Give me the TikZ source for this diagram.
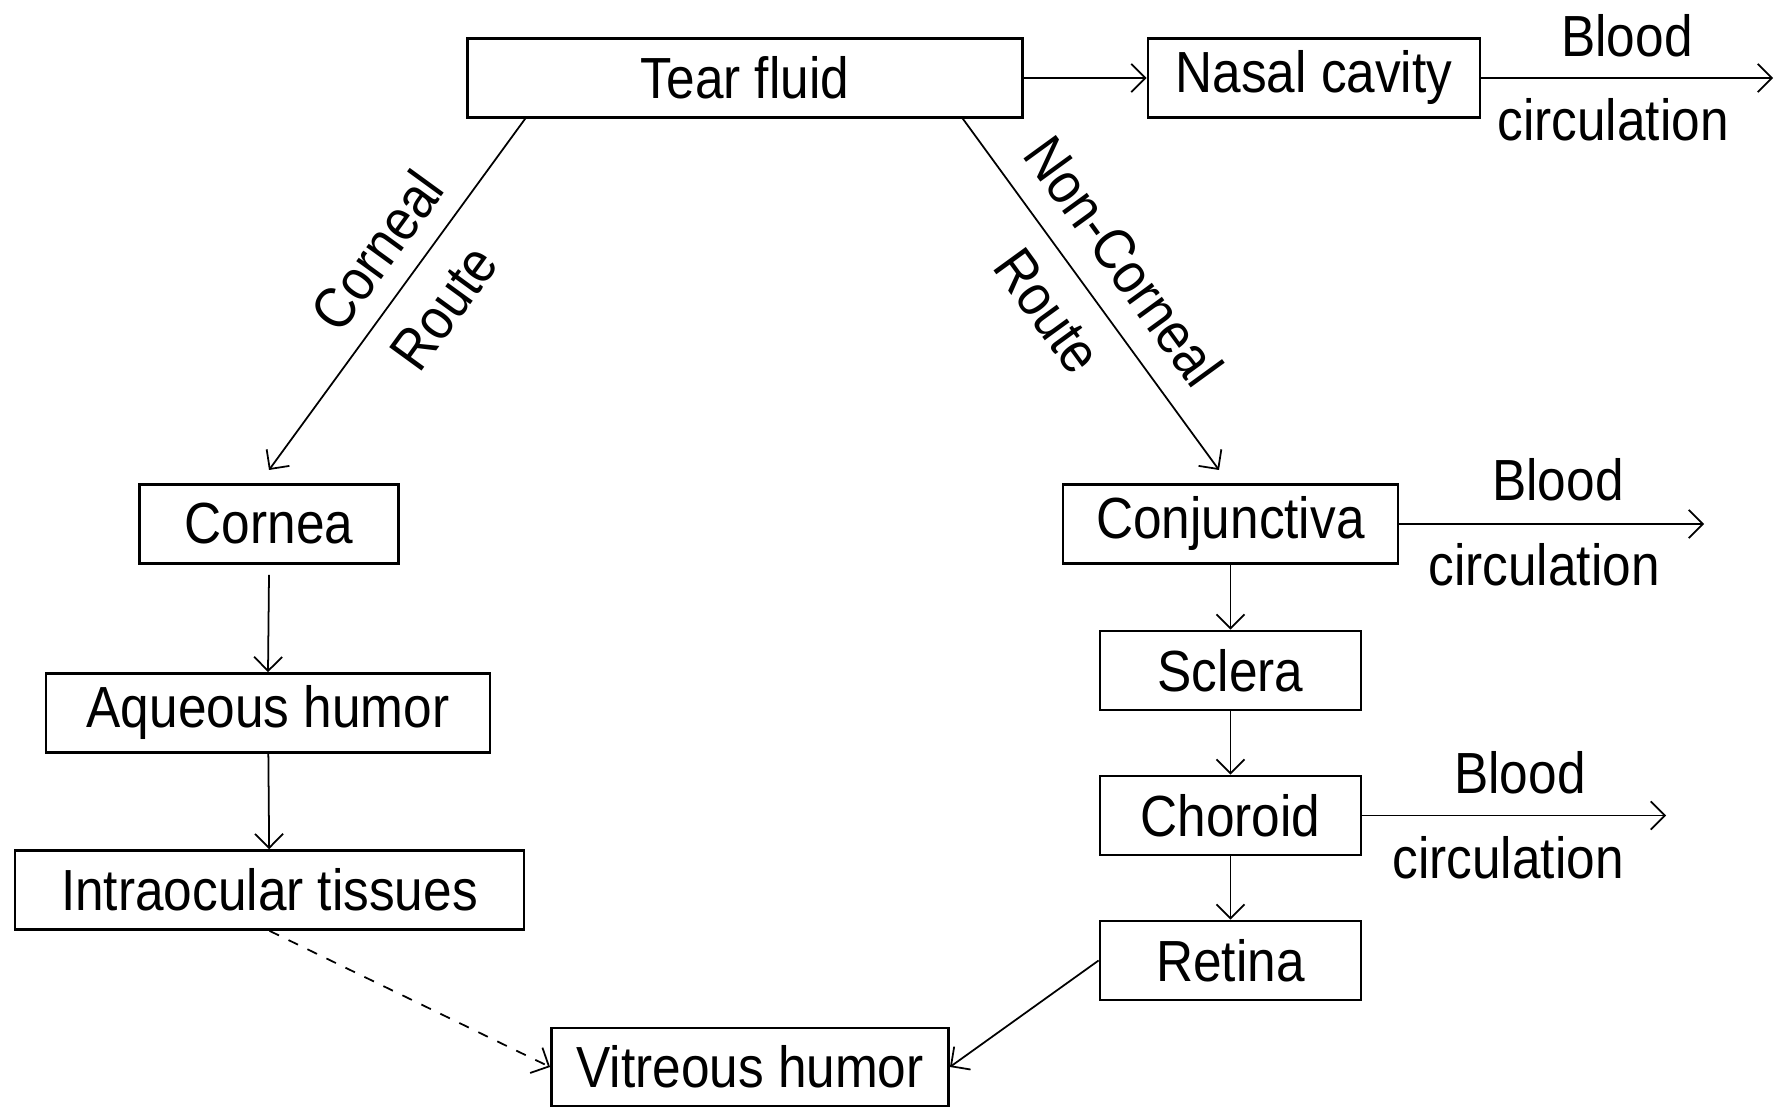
\documentclass[tikz,border=0pt]{standalone}
\usepackage{fontspec}
\setmainfont{Liberation Sans}[FakeStretch=0.885]
\usetikzlibrary{arrows.meta}
\begin{document}
\begin{tikzpicture}[x=0.01cm,y=-0.01cm,
  box/.style={draw,line width=0.75pt,minimum height=0.79cm,inner sep=0pt,font=\fontsize{16.5}{19}\selectfont},
  lbl/.style={font=\fontsize{16.5}{19}\selectfont,inner sep=0pt},
  arr/.style={line width=0.5pt,-{Straight Barb[length=4pt,width=8pt]}},
  ]
\useasboundingbox (0,0) rectangle (1775,1107);
\node[box,minimum width=5.55cm] (tear) at (745,78) {Tear fluid};
\node[box,minimum width=3.32cm] (nasal) at (1314,78) {Nasal cavity};
\node[box,minimum width=2.59cm] (cornea) at (269,524) {Cornea};
\node[box,minimum width=4.44cm] (aq) at (268,713) {Aqueous humor};
\node[box,minimum width=5.09cm] (intra) at (269.5,890) {Intraocular tissues};
\node[box,minimum width=3.97cm,minimum height=0.78cm] (vit) at (750,1067) {Vitreous humor};
\node[box,minimum width=3.35cm] (conj) at (1230.5,524) {Conjunctiva};
\node[box,minimum width=2.61cm] (scl) at (1230.5,670.5) {Sclera};
\node[box,minimum width=2.61cm] (cho) at (1230.5,815.5) {Choroid};
\node[box,minimum width=2.61cm] (ret) at (1230.5,960.5) {Retina};
\coordinate (b1) at (1773,78);
\coordinate (b2) at (1704,524);
\coordinate (b3) at (1666,815.5);
\coordinate (tc) at (526,117.6);
\coordinate (cc) at (269,470);
\coordinate (tn) at (962,117.6);
\coordinate (nc) at (1219,470);
\coordinate (ca) at (269,575);
% connectors
\draw[arr] (tear) -- (nasal);
\draw[arr] (nasal) -- (b1);
\draw[arr] (conj) -- (b2);
\draw[arr] (cho) -- (b3);
\draw[arr] (tc) -- (cc);
\draw[arr] (tn) -- (nc);
\draw[arr] (ca) -- (aq.north);
\draw[arr] (aq) -- (intra);
\draw[arr] (conj) -- (scl);
\draw[arr] (scl) -- (cho);
\draw[arr] (cho) -- (ret);
\draw[arr,dashed] (intra.south) -- (vit.west);
\draw[arr] (ret.west) -- (vit.east);
% labels
\node[lbl] (bl1) at (1627,36) {Blood};
\node[lbl] (ci1) at (1613,120) {circulation};
\node[lbl] (bl2) at (1558,480) {Blood};
\node[lbl] (ci2) at (1544,565) {circulation};
\node[lbl] (bl3) at (1520,773) {Blood};
\node[lbl] (ci3) at (1508,858) {circulation};
\node[lbl,rotate=54] (cr1) at (377,251) {Corneal};
\node[lbl,rotate=54] (cr2) at (444,308) {Route};
\node[lbl,rotate=-54] (nc1) at (1124,261) {Non-Corneal};
\node[lbl,rotate=-54] (nc2) at (1048,311) {Route};
\end{tikzpicture}
\end{document}
